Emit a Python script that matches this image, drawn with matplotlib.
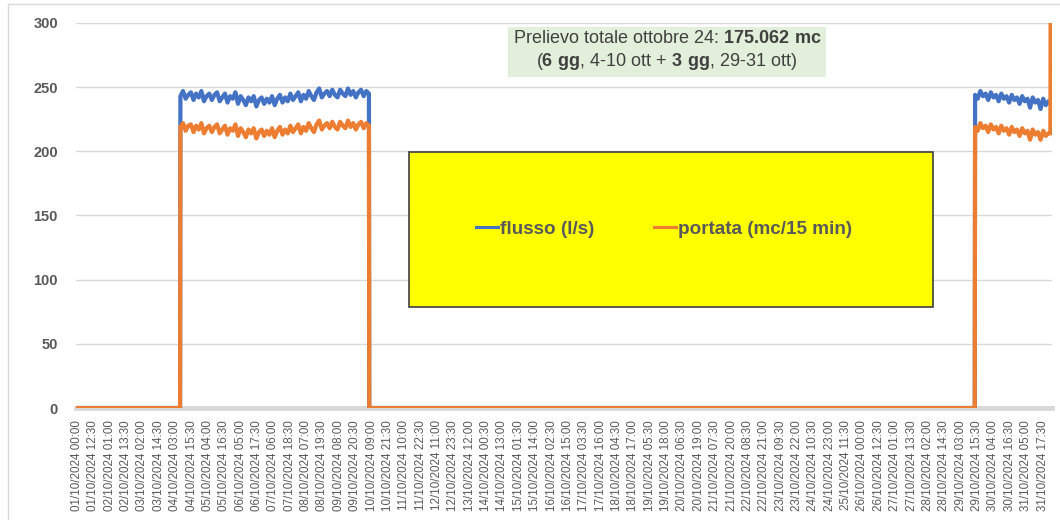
import matplotlib
matplotlib.use("Agg")
import matplotlib.pyplot as plt
from matplotlib.patches import Rectangle

plt.rcParams['font.family'] = ['Liberation Sans', 'DejaVu Sans']
plt.rcParams['mathtext.fontset'] = 'custom'
plt.rcParams['mathtext.rm'] = 'Liberation Sans'
plt.rcParams['mathtext.bf'] = 'Liberation Sans:bold'

# ---- data -------------------------------------------------------------
n_points = 2976            # 15-minute readings, 1-31 October 2024
sample_step = 8            # readings below are every 2 hours (8 x 15 min)

tick_labels = [
    "01/10/2024 00:00", "01/10/2024 12:30", "02/10/2024 01:00", "02/10/2024 13:30",
    "03/10/2024 02:00", "03/10/2024 14:30", "04/10/2024 03:00", "04/10/2024 15:30",
    "05/10/2024 04:00", "05/10/2024 16:30", "06/10/2024 05:00", "06/10/2024 17:30",
    "07/10/2024 06:00", "07/10/2024 18:30", "08/10/2024 07:00", "08/10/2024 19:30",
    "09/10/2024 08:00", "09/10/2024 20:30", "10/10/2024 09:00", "10/10/2024 21:30",
    "11/10/2024 10:00", "11/10/2024 22:30", "12/10/2024 11:00", "12/10/2024 23:30",
    "13/10/2024 12:00", "14/10/2024 00:30", "14/10/2024 13:00", "15/10/2024 01:30",
    "15/10/2024 14:00", "16/10/2024 02:30", "16/10/2024 15:00", "17/10/2024 03:30",
    "17/10/2024 16:00", "18/10/2024 04:30", "18/10/2024 17:00", "19/10/2024 05:30",
    "19/10/2024 18:00", "20/10/2024 06:30", "20/10/2024 19:00", "21/10/2024 07:30",
    "21/10/2024 20:00", "22/10/2024 08:30", "22/10/2024 21:00", "23/10/2024 09:30",
    "23/10/2024 22:00", "24/10/2024 10:30", "24/10/2024 23:00", "25/10/2024 11:30",
    "26/10/2024 00:00", "26/10/2024 12:30", "27/10/2024 01:00", "27/10/2024 13:30",
    "28/10/2024 02:00", "28/10/2024 14:30", "29/10/2024 03:00", "29/10/2024 15:30",
    "30/10/2024 04:00", "30/10/2024 16:30", "31/10/2024 05:00", "31/10/2024 17:30",
]
tick_every = 50            # one label every 50 readings (12h30)

block1_start = 316         # reading index (04/10 ~07:00)
block2_start = 2744        # reading index (29/10 ~14:00)

flusso_block1 = [
    243, 247, 241, 244, 246, 240, 245, 242, 247, 239, 243, 245,
    240, 244, 246, 239, 242, 245, 238, 243, 241, 246, 237, 243,
    240, 236, 242, 239, 243, 235, 240, 242, 237, 241, 238, 243,
    236, 241, 244, 238, 242, 239, 245, 240, 243, 246, 239, 244,
    241, 247, 243, 240, 246, 249, 242, 245, 247, 243, 248, 244,
    242, 248, 245, 243, 249, 244, 247, 242, 246, 248, 243, 247, 245,
]
portata_block1 = [
    219, 222, 216, 220, 221, 215, 220, 217, 222, 214, 218, 220,
    215, 219, 221, 214, 217, 220, 213, 218, 216, 221, 212, 218,
    215, 211, 217, 214, 218, 210, 215, 217, 212, 216, 213, 218,
    211, 216, 219, 213, 217, 214, 220, 215, 218, 221, 214, 219,
    216, 222, 218, 215, 221, 224, 217, 220, 222, 218, 223, 219,
    217, 223, 220, 218, 224, 219, 222, 217, 221, 223, 218, 222, 220,
]
flusso_block2 = [
    244, 241, 247, 243, 245, 240, 246, 242, 244, 239, 245, 241, 243, 238, 244,
    240, 242, 237, 243, 239, 241, 234, 242, 238, 240, 233, 241, 236, 239,
]
portata_block2 = [
    219, 216, 222, 218, 220, 215, 221, 217, 219, 214, 220, 216, 218, 213, 219,
    215, 217, 212, 218, 214, 216, 209, 217, 213, 215, 209, 216, 212, 214,
]
flusso_tail = [238, 237]     # last two readings (31/10 23:30, 23:45)
portata_tail = [214, 330]    # the last one runs off the top of the chart

# ---- build series ----------------------------------------------------
def build(block1, block2, tail):
    xs, ys = [0, block1_start - 1], [0, 0]
    for k, v in enumerate(block1):
        xs.append(block1_start + k * sample_step); ys.append(v)
    end1 = xs[-1] + 1
    xs += [end1, block2_start - 1]; ys += [0, 0]
    for k, v in enumerate(block2):
        xs.append(block2_start + k * sample_step); ys.append(v)
    for k, v in enumerate(tail):
        xs.append(n_points - len(tail) + k); ys.append(v)
    return xs, ys

fx, fy = build(flusso_block1, flusso_block2, flusso_tail)
px, py = build(portata_block1, portata_block2, portata_tail)

W, H = 1060, 520
fig = plt.figure(figsize=(W / 100, H / 100), dpi=100)
ax = fig.add_axes([76 / W, (H - 408) / H, (1052 - 76) / W, (408 - 23) / H])

ax.plot(fx, fy, color='#4472C4', lw=3.0, label='flusso (l/s)', zorder=3)
ax.plot(px, py, color='#ED7D31', lw=3.0, label='portata (mc/15 min)', zorder=4)

ax.set_ylim(0, 300)
ax.set_xlim(-3, n_points + 3)
ax.set_yticks(range(0, 301, 50))
ax.yaxis.grid(True, color='#d9d9d9', lw=1)
ax.set_axisbelow(True)
for s in ['top', 'right', 'left']:
    ax.spines[s].set_visible(False)
ax.spines['bottom'].set_color('#d9d9d9')
ax.spines['bottom'].set_linewidth(3.5)
ax.spines['bottom'].set_zorder(1)

ax.set_xticks([i * tick_every for i in range(len(tick_labels))])
ax.set_xticklabels(tick_labels, rotation=90, fontsize=8.4, color='#595959')
ax.tick_params(axis='x', length=0, pad=9)
ax.tick_params(axis='y', length=0, pad=13, labelsize=10.5, labelcolor='#595959')
for t in ax.get_yticklabels():
    t.set_fontweight('bold')

# yellow legend box
box = Rectangle((409 / W, (H - 307) / H), (933 - 409) / W, (307 - 152) / H,
                transform=fig.transFigure, facecolor='#FFFF00',
                edgecolor='#404040', lw=1.2, zorder=5, clip_on=False)
ax.add_patch(box)
leg = ax.legend(loc='center', bbox_to_anchor=(664 / W, (H - 229) / H),
                bbox_transform=fig.transFigure, ncol=2, frameon=False,
                handlelength=1.15, handletextpad=0.1, columnspacing=3.2,
                prop={'weight': 'bold', 'size': 13.6})
for t in leg.get_texts():
    t.set_color('#595959')
for h in leg.legend_handles:
    h.set_linewidth(2.2)
leg.set_zorder(6)

# annotation
fig.text(667 / W, (H - 51) / H,
         "Prelievo totale ottobre 24: $\\mathbf{175.062\\ mc}$\n"
         "($\\mathbf{6\\ gg}$, 4-10 ott + $\\mathbf{3\\ gg}$, 29-31 ott)",
         ha='center', va='center', fontsize=13, color='#404040', linespacing=1.3,
         bbox=dict(boxstyle='square,pad=0.25', facecolor='#E2EFDA', edgecolor='none'))

# outer chart border
fig.patches.append(Rectangle((8 / W, -0.1), 1.2, (H - 4) / H + 0.1,
                             transform=fig.transFigure, facecolor='none',
                             edgecolor='#d9d9d9', lw=1, zorder=0))

fig.savefig('out.png', dpi=100)
